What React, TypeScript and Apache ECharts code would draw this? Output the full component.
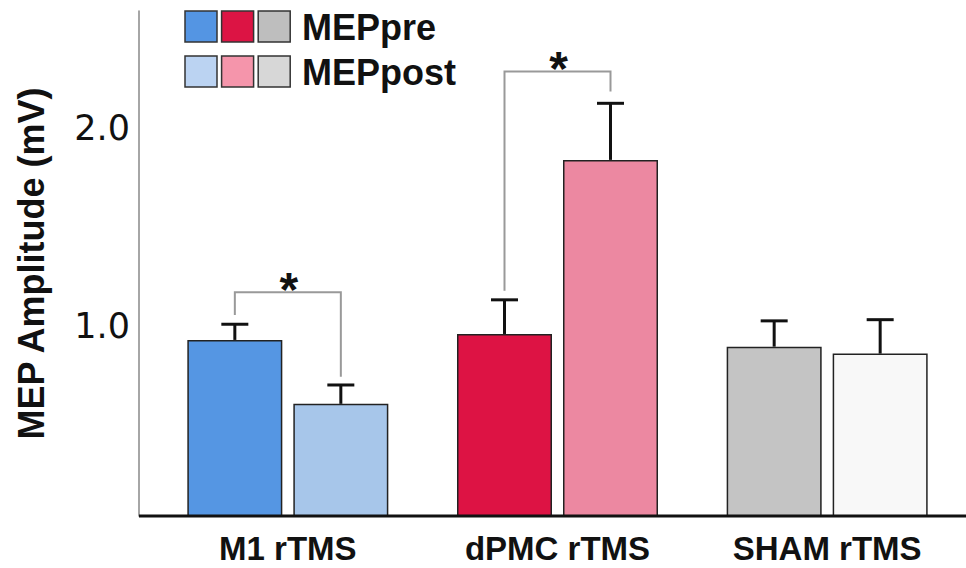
import React, { useEffect, useRef } from "react";
import * as echarts from "echarts";

const categories = ["M1 rTMS", "dPMC rTMS", "SHAM rTMS"];
const preValues = [0.932, 0.962, 0.898];
const postValues = [0.61, 1.839, 0.863];
const preErrors = [0.079, 0.172, 0.13];
const postErrors = [0.095, 0.285, 0.171];
const preColors = ["#5596E3", "#DD1344", "#C4C4C4"];
const postColors = ["#A7C6EA", "#EC88A1", "#F8F8F8"];
const legendPreColors = ["#5495E3", "#DC1444", "#BEBEBE"];
const legendPostColors = ["#BBD3F2", "#F595AB", "#D7D7D7"];
const yTickValues = [1, 2];
// significance brackets
const bracketCategories = [0, 1];
const bracketPreEnds = [1.058, 1.18];
const bracketTops = [1.172, 2.284];
const bracketPostEnds = [0.747, 2.183];
const bracketLabels = ["*", "*"];

const BAR_W = 95;
const BAR_GAP = 11;
const OFFSET = (BAR_W + BAR_GAP) / 2;
const CAP = 27;

export default function App() {
  const ref = useRef<HTMLDivElement>(null);
  useEffect(() => {
    const chart = echarts.init(ref.current as HTMLDivElement, null, { renderer: "svg" });

    const errData: number[][] = [];
    categories.forEach((_, i) => {
      errData.push([i, preValues[i], preErrors[i], 0]);
      errData.push([i, postValues[i], postErrors[i], 1]);
    });
    const bracketData = bracketCategories.map((c, k) => [
      c,
      bracketPreEnds[k],
      bracketTops[k],
      bracketPostEnds[k],
      k,
    ]);

    const legendRows = [
      { name: "MEPpre", colors: legendPreColors, y: 11 },
      { name: "MEPpost", colors: legendPostColors, y: 56 },
    ];
    const graphic: any[] = [];
    legendRows.forEach((row) => {
      row.colors.forEach((c, j) => {
        graphic.push({
          type: "rect",
          x: 185 + j * 36.6,
          y: row.y,
          shape: { x: 0, y: 0, width: 32, height: 31 },
          style: { fill: c, stroke: "#333", lineWidth: 1.5 },
        });
      });
      graphic.push({
        type: "text",
        x: 302,
        y: row.y + 16.5,
        style: {
          text: row.name,
          fontSize: 36,
          fontWeight: "bold",
          fontFamily: "Liberation Sans, Arial, sans-serif",
          fill: "#111",
          verticalAlign: "middle",
          align: "left",
        },
      });
    });
    graphic.push({
      type: "line",
      shape: { x1: 139, y1: 516, x2: 966, y2: 516 },
      style: { stroke: "#111", lineWidth: 3 },
      z: 100,
    });

    const option: any = {
      animation: false,
      backgroundColor: "#fff",
      grid: { left: 153, right: 4, top: 11, bottom: 52 },
      graphic,
      xAxis: {
        type: "category",
        data: categories,
        axisLine: { show: false },
        axisTick: { show: false },
        axisLabel: {
          fontSize: 33,
          lineHeight: 30,
          fontWeight: "bold",
          fontFamily: "Liberation Sans, Arial, sans-serif",
          color: "#111",
          margin: 17,
        },
      },
      yAxis: {
        type: "value",
        min: 0.045,
        max: 2.589,
        offset: 14,
        splitLine: { show: false },
        axisTick: { show: false },
        axisLine: { show: true, lineStyle: { color: "#888", width: 1.5 } },
        axisLabel: {
          customValues: yTickValues,
          formatter: (v: number) => v.toFixed(1),
          fontFamily: "DejaVu Sans, sans-serif",
          fontSize: 35,
          color: "#111",
          margin: 9,
        },
        name: "MEP Amplitude (mV)",
        nameLocation: "middle",
        nameGap: 90,
        nameTextStyle: {
          fontSize: 36,
          fontWeight: "bold",
          fontFamily: "Liberation Sans, Arial, sans-serif",
          color: "#111",
        },
      },
      series: [
        {
          name: "MEPpre",
          type: "bar",
          barWidth: BAR_W,
          barGap: (BAR_GAP / BAR_W) * 100 + "%",
          data: preValues.map((v, i) => ({ value: v, itemStyle: { color: preColors[i] } })),
          itemStyle: { borderColor: "#222", borderWidth: 1.5 },
        },
        {
          name: "MEPpost",
          type: "bar",
          barWidth: BAR_W,
          barGap: (BAR_GAP / BAR_W) * 100 + "%",
          data: postValues.map((v, i) => ({ value: v, itemStyle: { color: postColors[i] } })),
          itemStyle: { borderColor: "#222", borderWidth: 1.5 },
        },
        {
          type: "custom",
          name: "errors",
          z: 5,
          data: errData,
          encode: { x: 0, y: 1 },
          renderItem: (params: any, api: any) => {
            const cat = api.value(0);
            const v = api.value(1);
            const e = api.value(2);
            const s = api.value(3);
            const base = api.coord([cat, v]);
            const top = api.coord([cat, v + e]);
            const x = base[0] + (s === 0 ? -OFFSET : OFFSET);
            return {
              type: "group",
              children: [
                {
                  type: "line",
                  shape: { x1: x, y1: base[1], x2: x, y2: top[1] },
                  style: { stroke: "#111", lineWidth: 3 },
                },
                {
                  type: "line",
                  shape: { x1: x - CAP / 2, y1: top[1], x2: x + CAP / 2, y2: top[1] },
                  style: { stroke: "#111", lineWidth: 3 },
                },
              ],
            };
          },
        },
        {
          type: "custom",
          name: "brackets",
          z: 6,
          data: bracketData,
          encode: { x: 0, y: 2 },
          renderItem: (params: any, api: any) => {
            const cat = api.value(0);
            const pre = api.coord([cat, api.value(1)]);
            const top = api.coord([cat, api.value(2)]);
            const post = api.coord([cat, api.value(3)]);
            const k = api.value(4);
            const xl = top[0] - OFFSET;
            const xr = top[0] + OFFSET;
            return {
              type: "group",
              children: [
                {
                  type: "polyline",
                  shape: {
                    points: [
                      [xl, pre[1]],
                      [xl, top[1]],
                      [xr, top[1]],
                      [xr, post[1]],
                    ],
                  },
                  style: { stroke: "#999", lineWidth: 2, fill: "none" },
                },
                {
                  type: "text",
                  x: top[0] + 1,
                  y: top[1] - 3,
                  style: {
                    text: bracketLabels[k],
                    fontSize: 48,
                    fontWeight: "bold",
                    fontFamily: "Liberation Sans, Arial, sans-serif",
                    fill: "#111",
                    align: "center",
                    verticalAlign: "middle",
                  },
                },
              ],
            };
          },
        },
      ],
    };
    chart.setOption(option);
    return () => chart.dispose();
  }, []);
  return (
    <div
      ref={ref}
      style={{ position: "fixed", left: 0, top: 0, width: 966, height: 568, background: "#fff" }}
    />
  );
}
